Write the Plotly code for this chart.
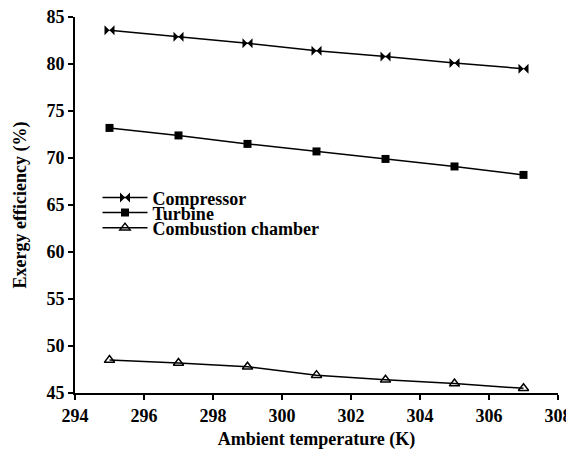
import plotly.graph_objects as go

temps = [295, 297, 299, 301, 303, 305, 307]
compressor = [83.6, 82.9, 82.2, 81.4, 80.8, 80.1, 79.5]
turbine = [73.2, 72.4, 71.5, 70.7, 69.9, 69.1, 68.2]
combustion = [48.5, 48.2, 47.8, 46.9, 46.4, 46.0, 45.5]
xticks = [294, 296, 298, 300, 302, 304, 306, 308]
yticks = [45, 50, 55, 60, 65, 70, 75, 80, 85]

FAM = "Liberation Serif"

fig = go.Figure()
fig.add_trace(go.Scatter(x=temps, y=compressor, name="<b>Compressor</b>", mode="lines+markers",
                         legend="legend",
                         line=dict(color="black", width=1.5),
                         marker=dict(symbol="bowtie", size=10, color="black")))
fig.add_trace(go.Scatter(x=temps, y=turbine, name="<b>Turbine</b>", mode="lines+markers",
                         legend="legend2",
                         line=dict(color="black", width=1.5),
                         marker=dict(symbol="square", size=8, color="black")))
fig.add_trace(go.Scatter(x=temps, y=combustion, name="<b>Combustion chamber</b>", mode="lines+markers",
                         legend="legend3",
                         line=dict(color="black", width=1.5),
                         marker=dict(symbol="triangle-up-open", size=9, color="black",
                                     line=dict(width=1.5, color="black"))))

axis_common = dict(showline=True, linecolor="black", linewidth=2, ticks="outside",
                   ticklen=5, tickwidth=2, tickcolor="black", showgrid=False,
                   zeroline=False, automargin=False, ticklabeloverflow="allow",
                   tickfont=dict(family=FAM, size=18, color="black"))

leg_common = dict(x=0.0466, xanchor="left", yanchor="middle", bgcolor="rgba(0,0,0,0)",
                  font=dict(family=FAM, size=18, color="black"), itemwidth=45)

fig.update_layout(
    width=574, height=459,
    margin=dict(l=67, r=24, t=9, b=74),
    paper_bgcolor="white", plot_bgcolor="white",
    font=dict(family=FAM, size=18, color="black"),
    showlegend=True,
    legend=dict(y=0.519, **leg_common),
    legend2=dict(y=0.479, **leg_common),
    legend3=dict(y=0.439, **leg_common),
    xaxis=dict(range=[294, 308], tickvals=xticks,
               ticktext=["<b>%d</b>" % v for v in xticks],
               title=dict(text="<b>Ambient temperature (K)</b>", standoff=8,
                          font=dict(family=FAM, size=18, color="black")),
               **axis_common),
    yaxis=dict(range=[45, 85], tickvals=yticks,
               ticktext=["<b>%d</b>" % v for v in yticks],
               title=dict(text="<b>Exergy efficiency (%)</b>", standoff=15,
                          font=dict(family=FAM, size=18, color="black")),
               **axis_common),
)

fig.write_html("out.html")
